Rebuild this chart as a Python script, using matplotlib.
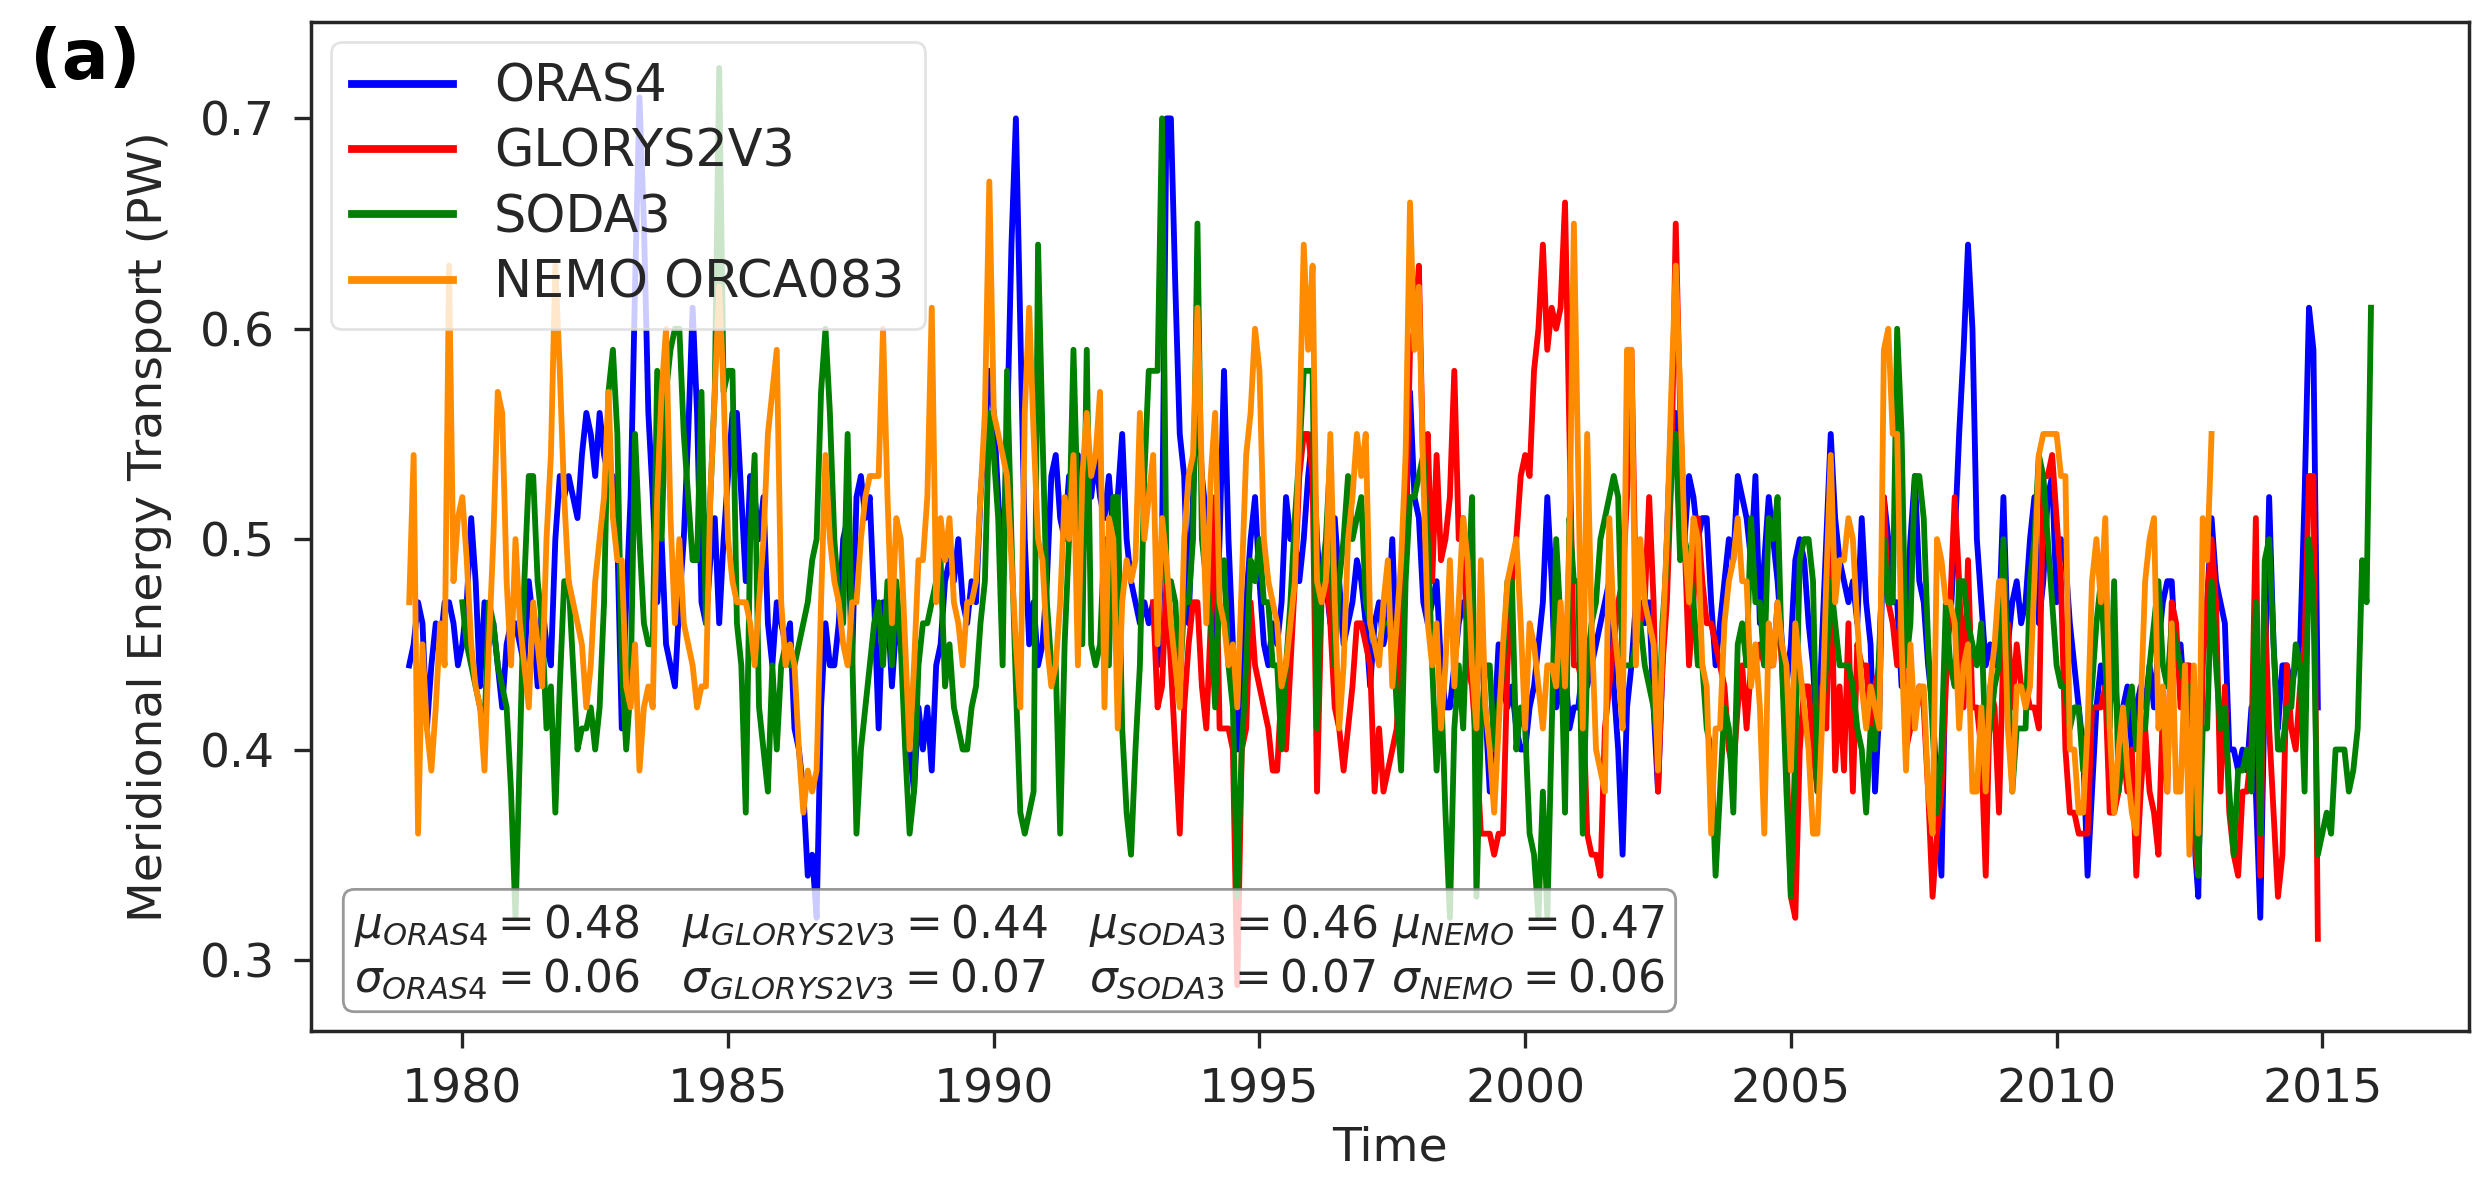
import numpy as np
import matplotlib
matplotlib.use("Agg")
import matplotlib.pyplot as plt

# monthly values (PW)
oras4_start = 1979
oras4 = [
    0.44, 0.45, 0.47, 0.46, 0.41, 0.44, 0.46, 0.45, 0.47, 0.47, 0.46, 0.44,  # 1979
    0.45, 0.47, 0.51, 0.48, 0.43, 0.47, 0.45, 0.46, 0.44, 0.42, 0.45, 0.46,  # 1980
    0.46, 0.45, 0.44, 0.48, 0.46, 0.43, 0.47, 0.45, 0.44, 0.50, 0.53, 0.52,  # 1981
    0.53, 0.52, 0.51, 0.54, 0.56, 0.55, 0.53, 0.56, 0.54, 0.53, 0.53, 0.50,  # 1982
    0.41, 0.47, 0.52, 0.62, 0.71, 0.65, 0.56, 0.52, 0.47, 0.50, 0.45, 0.44,  # 1983
    0.43, 0.47, 0.50, 0.55, 0.61, 0.56, 0.47, 0.46, 0.49, 0.51, 0.46, 0.50,  # 1984
    0.53, 0.56, 0.56, 0.52, 0.48, 0.53, 0.52, 0.50, 0.52, 0.46, 0.44, 0.47,  # 1985
    0.46, 0.45, 0.46, 0.41, 0.40, 0.38, 0.34, 0.35, 0.32, 0.42, 0.46, 0.44,  # 1986
    0.44, 0.46, 0.50, 0.51, 0.44, 0.52, 0.53, 0.51, 0.52, 0.47, 0.41, 0.47,  # 1987
    0.47, 0.43, 0.46, 0.45, 0.43, 0.40, 0.38, 0.42, 0.40, 0.42, 0.39, 0.44,  # 1988
    0.45, 0.48, 0.49, 0.48, 0.50, 0.47, 0.46, 0.48, 0.47, 0.52, 0.55, 0.58,  # 1989
    0.56, 0.52, 0.48, 0.55, 0.64, 0.70, 0.60, 0.50, 0.45, 0.47, 0.44, 0.45,  # 1990
    0.48, 0.53, 0.54, 0.51, 0.50, 0.53, 0.52, 0.54, 0.50, 0.53, 0.52, 0.54,  # 1991
    0.52, 0.51, 0.53, 0.50, 0.52, 0.55, 0.50, 0.48, 0.47, 0.46, 0.47, 0.46,  # 1992
    0.47, 0.44, 0.50, 0.70, 0.70, 0.62, 0.55, 0.53, 0.46, 0.52, 0.57, 0.53,  # 1993
    0.51, 0.49, 0.44, 0.50, 0.58, 0.50, 0.45, 0.40, 0.43, 0.47, 0.50, 0.52,  # 1994
    0.48, 0.45, 0.44, 0.46, 0.45, 0.47, 0.52, 0.50, 0.50, 0.48, 0.50, 0.53,  # 1995
    0.55, 0.50, 0.47, 0.48, 0.46, 0.51, 0.48, 0.45, 0.46, 0.47, 0.49, 0.48,  # 1996
    0.46, 0.43, 0.46, 0.47, 0.45, 0.46, 0.50, 0.44, 0.47, 0.50, 0.57, 0.52,  # 1997
    0.51, 0.47, 0.46, 0.47, 0.48, 0.44, 0.42, 0.42, 0.44, 0.46, 0.47, 0.46,  # 1998
    0.44, 0.45, 0.45, 0.42, 0.38, 0.41, 0.45, 0.43, 0.42, 0.43, 0.41, 0.40,  # 1999
    0.40, 0.42, 0.43, 0.45, 0.47, 0.52, 0.48, 0.42, 0.43, 0.44, 0.41, 0.42,  # 2000
    0.42, 0.44, 0.43, 0.44, 0.45, 0.46, 0.47, 0.48, 0.43, 0.40, 0.35, 0.42,  # 2001
    0.44, 0.47, 0.47, 0.46, 0.47, 0.42, 0.38, 0.44, 0.50, 0.56, 0.56, 0.51,  # 2002
    0.50, 0.53, 0.52, 0.50, 0.51, 0.51, 0.47, 0.44, 0.46, 0.48, 0.50, 0.49,  # 2003
    0.53, 0.52, 0.51, 0.49, 0.53, 0.46, 0.49, 0.52, 0.50, 0.48, 0.45, 0.43,  # 2004
    0.45, 0.49, 0.50, 0.49, 0.46, 0.44, 0.40, 0.45, 0.50, 0.55, 0.51, 0.49,  # 2005
    0.48, 0.47, 0.48, 0.46, 0.51, 0.47, 0.45, 0.38, 0.42, 0.52, 0.50, 0.47,  # 2006
    0.47, 0.43, 0.46, 0.50, 0.53, 0.48, 0.47, 0.44, 0.42, 0.38, 0.34, 0.45,  # 2007
    0.46, 0.50, 0.55, 0.59, 0.64, 0.60, 0.50, 0.47, 0.44, 0.45, 0.44, 0.46,  # 2008
    0.52, 0.45, 0.47, 0.48, 0.46, 0.47, 0.50, 0.52, 0.46, 0.48, 0.52, 0.53,  # 2009
    0.47, 0.50, 0.49, 0.46, 0.44, 0.42, 0.40, 0.34, 0.38, 0.42, 0.44, 0.43,  # 2010
    0.42, 0.44, 0.41, 0.42, 0.43, 0.40, 0.42, 0.43, 0.42, 0.44, 0.42, 0.45,  # 2011
    0.47, 0.48, 0.48, 0.44, 0.45, 0.42, 0.40, 0.36, 0.33, 0.45, 0.47, 0.51,  # 2012
    0.48, 0.47, 0.46, 0.40, 0.40, 0.39, 0.40, 0.39, 0.42, 0.38, 0.32, 0.43,  # 2013
    0.52, 0.45, 0.41, 0.44, 0.44, 0.43, 0.44, 0.45, 0.52, 0.61, 0.59, 0.42,  # 2014
]

glorys_start = 1993
glorys = [
    0.47, 0.42, 0.43, 0.48, 0.44, 0.40, 0.36, 0.42, 0.45, 0.47, 0.47, 0.43,  # 1993
    0.41, 0.46, 0.52, 0.41, 0.41, 0.41, 0.40, 0.288, 0.40, 0.41, 0.47, 0.44,  # 1994
    0.43, 0.42, 0.41, 0.39, 0.39, 0.43, 0.40, 0.44, 0.48, 0.53, 0.55, 0.55,  # 1995
    0.53, 0.38, 0.47, 0.49, 0.46, 0.42, 0.41, 0.39, 0.41, 0.43, 0.46, 0.46,  # 1996
    0.45, 0.44, 0.38, 0.41, 0.38, 0.39, 0.40, 0.41, 0.45, 0.50, 0.59, 0.60,  # 1997
    0.63, 0.53, 0.55, 0.48, 0.54, 0.49, 0.50, 0.52, 0.58, 0.50, 0.51, 0.44,  # 1998
    0.43, 0.40, 0.36, 0.36, 0.36, 0.35, 0.36, 0.36, 0.44, 0.48, 0.50, 0.53,  # 1999
    0.54, 0.53, 0.58, 0.60, 0.64, 0.59, 0.61, 0.60, 0.61, 0.66, 0.55, 0.44,  # 2000
    0.44, 0.43, 0.36, 0.35, 0.35, 0.34, 0.41, 0.43, 0.45, 0.47, 0.48, 0.52,  # 2001
    0.59, 0.47, 0.46, 0.47, 0.52, 0.47, 0.38, 0.44, 0.47, 0.53, 0.65, 0.56,  # 2002
    0.50, 0.44, 0.47, 0.51, 0.48, 0.46, 0.46, 0.45, 0.44, 0.43, 0.40, 0.39,  # 2003
    0.42, 0.44, 0.41, 0.44, 0.44, 0.45, 0.44, 0.44, 0.44, 0.47, 0.44, 0.40,  # 2004
    0.33, 0.32, 0.40, 0.43, 0.43, 0.40, 0.38, 0.43, 0.41, 0.50, 0.39, 0.43,  # 2005
    0.39, 0.46, 0.38, 0.45, 0.44, 0.44, 0.41, 0.43, 0.44, 0.52, 0.47, 0.46,  # 2006
    0.44, 0.47, 0.40, 0.41, 0.42, 0.43, 0.42, 0.38, 0.33, 0.36, 0.38, 0.43,  # 2007
    0.47, 0.52, 0.48, 0.42, 0.49, 0.42, 0.42, 0.40, 0.34, 0.43, 0.42, 0.37,  # 2008
    0.45, 0.46, 0.42, 0.45, 0.43, 0.43, 0.42, 0.42, 0.41, 0.53, 0.53, 0.54,  # 2009
    0.51, 0.48, 0.40, 0.37, 0.37, 0.36, 0.36, 0.36, 0.42, 0.42, 0.42, 0.43,  # 2010
    0.37, 0.37, 0.38, 0.40, 0.38, 0.40, 0.34, 0.38, 0.41, 0.38, 0.37, 0.35,  # 2011
    0.42, 0.38, 0.47, 0.46, 0.42, 0.44, 0.44, 0.36, 0.34, 0.44, 0.47, 0.50,  # 2012
    0.47, 0.38, 0.43, 0.37, 0.35, 0.34, 0.38, 0.38, 0.40, 0.51, 0.34, 0.47,  # 2013
    0.41, 0.37, 0.33, 0.35, 0.44, 0.41, 0.40, 0.43, 0.45, 0.53, 0.53, 0.31,  # 2014
]

soda3_start = 1980
soda3 = [
    0.47, 0.45, 0.44, 0.43, 0.42, 0.41, 0.47, 0.46, 0.44, 0.43, 0.42, 0.38,  # 1980
    0.32, 0.40, 0.48, 0.53, 0.53, 0.48, 0.46, 0.41, 0.43, 0.37, 0.43, 0.48,  # 1981
    0.48, 0.44, 0.40, 0.41, 0.41, 0.42, 0.40, 0.42, 0.47, 0.57, 0.59, 0.55,  # 1982
    0.44, 0.40, 0.43, 0.55, 0.50, 0.46, 0.45, 0.45, 0.58, 0.50, 0.57, 0.59,  # 1983
    0.60, 0.60, 0.55, 0.52, 0.49, 0.49, 0.57, 0.46, 0.52, 0.57, 0.724, 0.57,  # 1984
    0.58, 0.58, 0.46, 0.44, 0.37, 0.50, 0.54, 0.42, 0.40, 0.38, 0.44, 0.40,  # 1985
    0.44, 0.45, 0.44, 0.44, 0.45, 0.46, 0.47, 0.49, 0.50, 0.57, 0.60, 0.56,  # 1986
    0.50, 0.47, 0.46, 0.55, 0.45, 0.36, 0.40, 0.42, 0.44, 0.46, 0.47, 0.44,  # 1987
    0.48, 0.44, 0.48, 0.45, 0.40, 0.36, 0.38, 0.44, 0.46, 0.46, 0.47, 0.48,  # 1988
    0.49, 0.43, 0.45, 0.42, 0.41, 0.40, 0.40, 0.42, 0.43, 0.46, 0.48, 0.56,  # 1989
    0.54, 0.51, 0.44, 0.58, 0.50, 0.43, 0.37, 0.36, 0.37, 0.38, 0.64, 0.55,  # 1990
    0.47, 0.44, 0.44, 0.36, 0.45, 0.50, 0.59, 0.51, 0.45, 0.59, 0.45, 0.44,  # 1991
    0.45, 0.50, 0.44, 0.52, 0.52, 0.41, 0.37, 0.35, 0.40, 0.44, 0.53, 0.58,  # 1992
    0.58, 0.58, 0.70, 0.48, 0.48, 0.47, 0.43, 0.47, 0.47, 0.50, 0.65, 0.50,  # 1993
    0.48, 0.46, 0.42, 0.48, 0.49, 0.44, 0.42, 0.33, 0.40, 0.44, 0.49, 0.48,  # 1994
    0.50, 0.47, 0.47, 0.44, 0.44, 0.40, 0.44, 0.47, 0.51, 0.54, 0.58, 0.58,  # 1995
    0.58, 0.41, 0.48, 0.50, 0.54, 0.44, 0.48, 0.50, 0.53, 0.50, 0.51, 0.52,  # 1996
    0.47, 0.46, 0.45, 0.45, 0.46, 0.46, 0.46, 0.42, 0.39, 0.48, 0.52, 0.52,  # 1997
    0.53, 0.54, 0.50, 0.44, 0.39, 0.43, 0.37, 0.32, 0.41, 0.44, 0.41, 0.47,  # 1998
    0.52, 0.33, 0.41, 0.44, 0.44, 0.40, 0.42, 0.44, 0.48, 0.48, 0.40, 0.42,  # 1999
    0.41, 0.36, 0.35, 0.32, 0.38, 0.32, 0.41, 0.50, 0.46, 0.37, 0.51, 0.48,  # 2000
    0.48, 0.36, 0.44, 0.46, 0.47, 0.50, 0.51, 0.52, 0.53, 0.52, 0.44, 0.44,  # 2001
    0.44, 0.45, 0.46, 0.44, 0.43, 0.42, 0.40, 0.46, 0.49, 0.53, 0.55, 0.49,  # 2002
    0.50, 0.49, 0.47, 0.44, 0.44, 0.41, 0.40, 0.34, 0.38, 0.42, 0.41, 0.37,  # 2003
    0.45, 0.46, 0.44, 0.51, 0.47, 0.47, 0.44, 0.51, 0.50, 0.52, 0.44, 0.38,  # 2004
    0.33, 0.40, 0.49, 0.50, 0.50, 0.48, 0.38, 0.42, 0.44, 0.48, 0.46, 0.44,  # 2005
    0.44, 0.44, 0.43, 0.41, 0.40, 0.37, 0.41, 0.40, 0.45, 0.50, 0.47, 0.47,  # 2006
    0.60, 0.55, 0.44, 0.46, 0.53, 0.53, 0.51, 0.45, 0.41, 0.37, 0.40, 0.47,  # 2007
    0.44, 0.43, 0.48, 0.48, 0.46, 0.45, 0.44, 0.46, 0.40, 0.41, 0.43, 0.44,  # 2008
    0.50, 0.44, 0.38, 0.41, 0.41, 0.41, 0.48, 0.50, 0.54, 0.53, 0.50, 0.47,  # 2009
    0.44, 0.43, 0.43, 0.41, 0.42, 0.42, 0.39, 0.41, 0.43, 0.46, 0.48, 0.44,  # 2010
    0.41, 0.48, 0.38, 0.40, 0.42, 0.43, 0.40, 0.41, 0.41, 0.44, 0.46, 0.48,  # 2011
    0.44, 0.43, 0.46, 0.45, 0.44, 0.43, 0.43, 0.40, 0.34, 0.41, 0.41, 0.48,  # 2012
    0.44, 0.41, 0.42, 0.38, 0.35, 0.39, 0.39, 0.40, 0.38, 0.47, 0.36, 0.49,  # 2013
    0.50, 0.45, 0.40, 0.40, 0.42, 0.42, 0.45, 0.44, 0.38, 0.50, 0.47, 0.35,  # 2014
    0.36, 0.37, 0.36, 0.40, 0.40, 0.40, 0.38, 0.39, 0.41, 0.49, 0.47, 0.61,  # 2015
]

nemo_start = 1979
nemo = [
    0.47, 0.54, 0.36, 0.45, 0.41, 0.39, 0.42, 0.46, 0.44, 0.63, 0.48, 0.51,  # 1979
    0.52, 0.49, 0.45, 0.43, 0.42, 0.39, 0.45, 0.50, 0.57, 0.56, 0.48, 0.44,  # 1980
    0.50, 0.46, 0.44, 0.42, 0.47, 0.45, 0.43, 0.50, 0.54, 0.63, 0.58, 0.52,  # 1981
    0.48, 0.47, 0.46, 0.45, 0.42, 0.44, 0.48, 0.50, 0.52, 0.57, 0.51, 0.49,  # 1982
    0.49, 0.43, 0.42, 0.45, 0.39, 0.42, 0.43, 0.42, 0.52, 0.57, 0.60, 0.51,  # 1983
    0.46, 0.50, 0.46, 0.45, 0.44, 0.42, 0.43, 0.43, 0.52, 0.57, 0.62, 0.57,  # 1984
    0.50, 0.48, 0.47, 0.47, 0.47, 0.46, 0.44, 0.47, 0.50, 0.55, 0.57, 0.59,  # 1985
    0.47, 0.44, 0.45, 0.44, 0.40, 0.37, 0.39, 0.38, 0.39, 0.47, 0.54, 0.50,  # 1986
    0.48, 0.47, 0.45, 0.44, 0.47, 0.47, 0.50, 0.52, 0.53, 0.53, 0.53, 0.60,  # 1987
    0.52, 0.46, 0.51, 0.50, 0.45, 0.40, 0.44, 0.49, 0.49, 0.52, 0.61, 0.47,  # 1988
    0.51, 0.49, 0.51, 0.47, 0.46, 0.44, 0.47, 0.47, 0.48, 0.52, 0.56, 0.67,  # 1989
    0.56, 0.55, 0.54, 0.53, 0.49, 0.45, 0.42, 0.56, 0.61, 0.55, 0.50, 0.49,  # 1990
    0.45, 0.43, 0.44, 0.47, 0.52, 0.50, 0.54, 0.44, 0.53, 0.56, 0.53, 0.54,  # 1991
    0.57, 0.42, 0.51, 0.50, 0.41, 0.47, 0.49, 0.48, 0.49, 0.56, 0.50, 0.52,  # 1992
    0.54, 0.45, 0.51, 0.49, 0.46, 0.44, 0.42, 0.50, 0.53, 0.54, 0.61, 0.53,  # 1993
    0.46, 0.53, 0.56, 0.47, 0.46, 0.44, 0.45, 0.42, 0.48, 0.54, 0.56, 0.60,  # 1994
    0.58, 0.50, 0.48, 0.47, 0.46, 0.43, 0.44, 0.46, 0.48, 0.55, 0.64, 0.59,  # 1995
    0.63, 0.48, 0.47, 0.48, 0.55, 0.47, 0.41, 0.44, 0.50, 0.52, 0.55, 0.53,  # 1996
    0.55, 0.46, 0.45, 0.44, 0.47, 0.49, 0.43, 0.46, 0.49, 0.54, 0.66, 0.59,  # 1997
    0.62, 0.53, 0.46, 0.44, 0.46, 0.41, 0.44, 0.49, 0.43, 0.47, 0.51, 0.49,  # 1998
    0.44, 0.41, 0.49, 0.42, 0.40, 0.37, 0.41, 0.45, 0.48, 0.49, 0.50, 0.46,  # 1999
    0.41, 0.46, 0.45, 0.43, 0.41, 0.44, 0.44, 0.43, 0.47, 0.43, 0.50, 0.65,  # 2000
    0.53, 0.41, 0.55, 0.46, 0.40, 0.39, 0.38, 0.51, 0.46, 0.44, 0.41, 0.59,  # 2001
    0.59, 0.44, 0.50, 0.47, 0.46, 0.45, 0.39, 0.45, 0.50, 0.57, 0.63, 0.57,  # 2002
    0.50, 0.47, 0.51, 0.50, 0.44, 0.43, 0.36, 0.41, 0.41, 0.46, 0.48, 0.49,  # 2003
    0.51, 0.48, 0.48, 0.43, 0.45, 0.42, 0.36, 0.46, 0.44, 0.47, 0.45, 0.44,  # 2004
    0.39, 0.46, 0.44, 0.42, 0.40, 0.36, 0.36, 0.41, 0.48, 0.54, 0.47, 0.49,  # 2005
    0.49, 0.51, 0.50, 0.46, 0.43, 0.41, 0.43, 0.42, 0.41, 0.59, 0.60, 0.55,  # 2006
    0.55, 0.45, 0.39, 0.45, 0.41, 0.43, 0.43, 0.38, 0.36, 0.50, 0.49, 0.47,  # 2007
    0.47, 0.46, 0.41, 0.44, 0.45, 0.38, 0.38, 0.42, 0.38, 0.43, 0.45, 0.48,  # 2008
    0.48, 0.41, 0.38, 0.43, 0.43, 0.42, 0.43, 0.48, 0.54, 0.55, 0.55, 0.55,  # 2009
    0.55, 0.53, 0.53, 0.40, 0.40, 0.37, 0.37, 0.41, 0.48, 0.50, 0.47, 0.51,  # 2010
    0.41, 0.37, 0.40, 0.42, 0.39, 0.37, 0.36, 0.42, 0.48, 0.50, 0.51, 0.41,  # 2011
    0.43, 0.38, 0.46, 0.38, 0.38, 0.44, 0.35, 0.44, 0.36, 0.51, 0.49, 0.55,  # 2012
]

names = ["ORAS4", "GLORYS2V3", "SODA3", "NEMO ORCA083"]
colors = ["blue", "red", "green", "darkorange"]

stats_text = ("$\\mu_{ORAS4} = 0.48$   $\\mu_{GLORYS2V3} = 0.44$   "
              "$\\mu_{SODA3} = 0.46$ $\\mu_{NEMO} = 0.47$\n"
              "$\\sigma_{ORAS4} = 0.06$   $\\sigma_{GLORYS2V3} = 0.07$   "
              "$\\sigma_{SODA3} = 0.07$ $\\sigma_{NEMO} = 0.06$")


def month_axis(start, vals):
    return start + np.arange(len(vals)) / 12.0


plt.rcParams["font.family"] = ["DejaVu Sans"]
plt.rcParams["text.color"] = "#262626"
plt.rcParams["axes.labelcolor"] = "#262626"
plt.rcParams["xtick.color"] = "#262626"
plt.rcParams["ytick.color"] = "#262626"

fig = plt.figure(figsize=(12.395, 5.89), dpi=200)
ax = fig.add_axes([0.1255, 0.1248, 0.996 - 0.1255, 0.9813 - 0.1248])

series = [(oras4_start, oras4), (glorys_start, glorys), (soda3_start, soda3), (nemo_start, nemo)]
for (start, vals), name, c in zip(series, names, colors):
    ax.plot(month_axis(start, vals), vals, color=c, lw=2.1, label=name)

ax.set_xlabel("Time", fontsize=17, labelpad=5)
ax.set_ylabel("Meridional Energy Transport (PW)", fontsize=17, labelpad=10)
ax.tick_params(labelsize=17, length=6, width=1.2, direction="out", pad=7)
for s in ax.spines.values():
    s.set_linewidth(1.25)
    s.set_color("#262626")

leg = ax.legend(loc="upper left", fontsize=18.3, framealpha=0.8, labelspacing=0.3,
                handlelength=2.0, borderaxespad=0.4)
leg.get_frame().set_edgecolor("#dddddd")
for h in leg.get_lines():
    h.set_linewidth(2.8)

ax.text(0.02, 0.03, stats_text, transform=ax.transAxes, fontsize=15.8,
        ha="left", va="bottom", multialignment="center",
        bbox=dict(boxstyle="round,pad=0.25", facecolor="white", alpha=0.8, edgecolor="gray"))

fig.text(0.012, 0.978, "(a)", fontsize=25, fontweight="bold", color="black",
         ha="left", va="top")

fig.savefig("out.png", dpi=200)
